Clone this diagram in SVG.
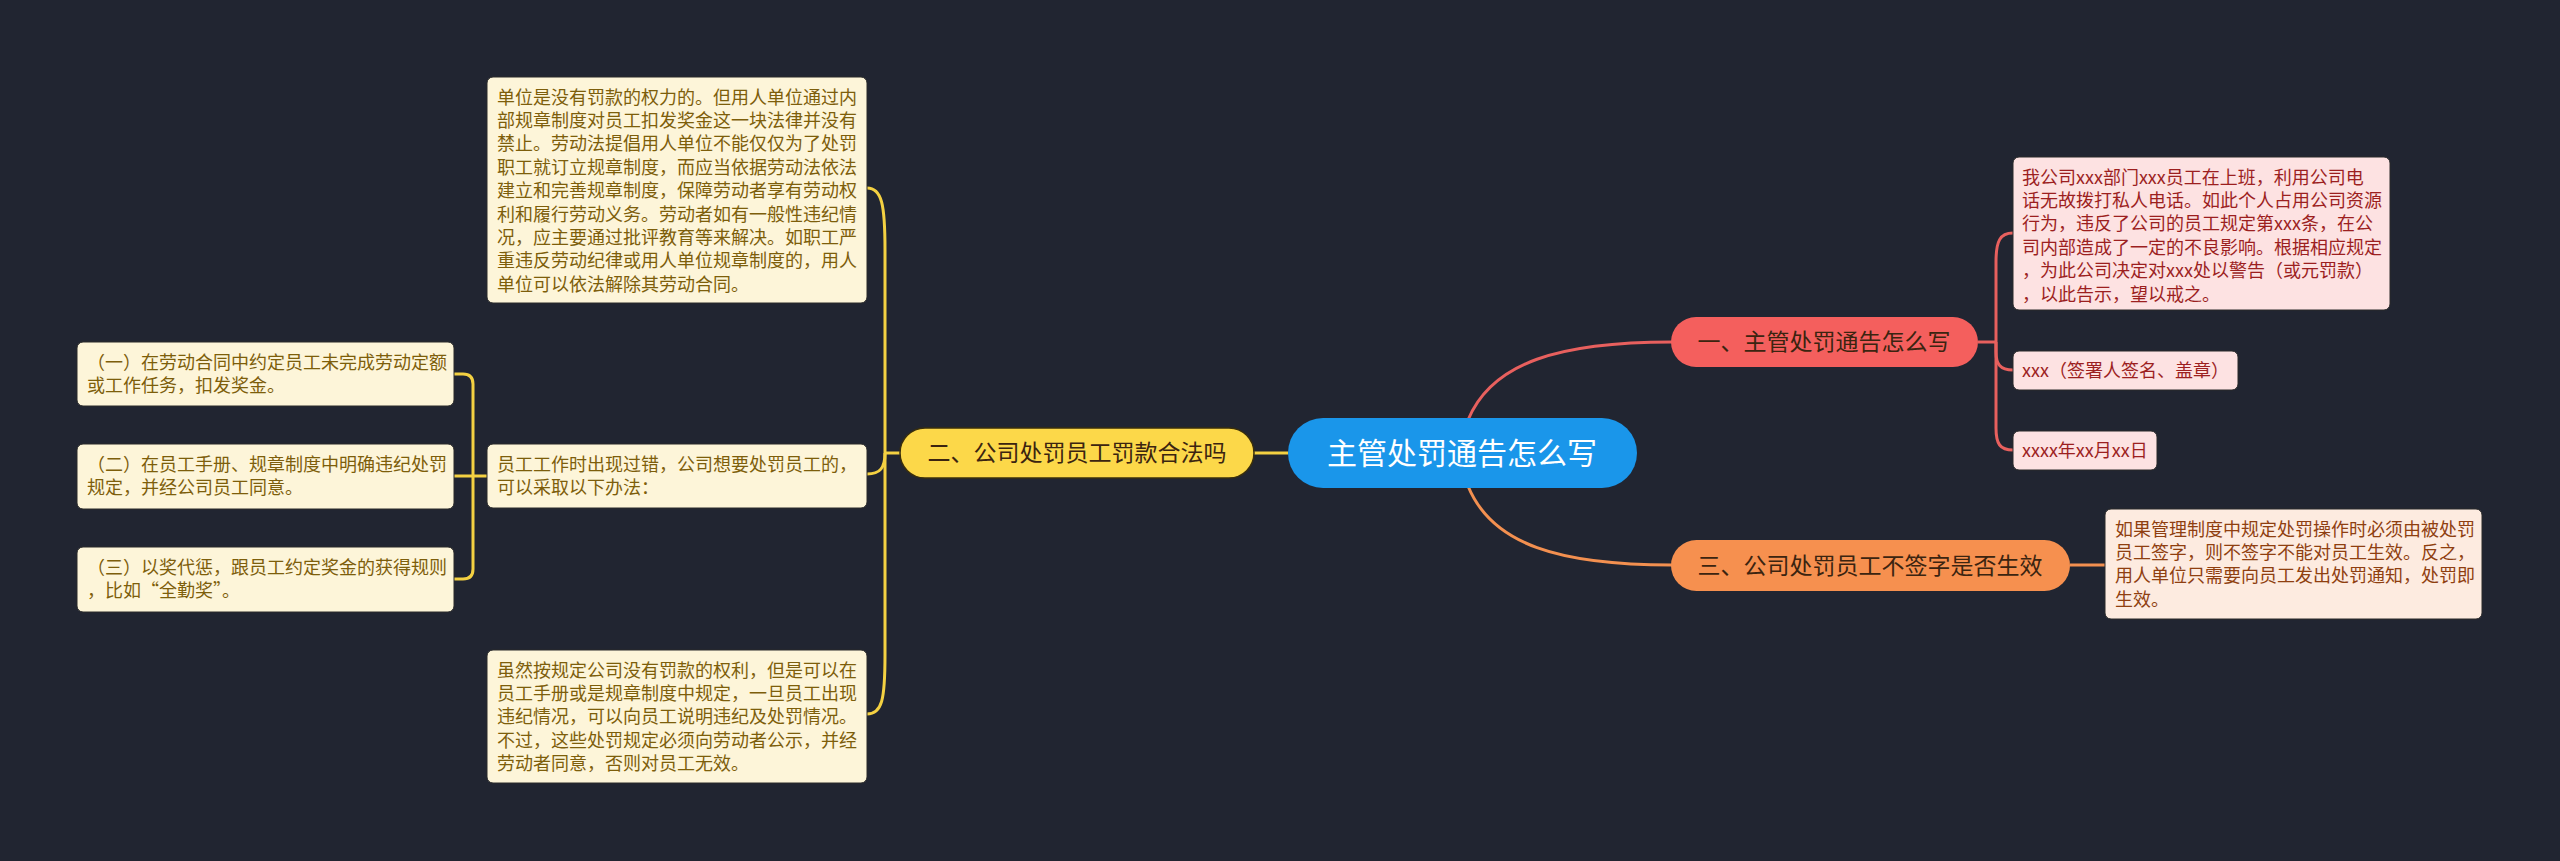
<svg xmlns="http://www.w3.org/2000/svg" width="2560" height="861" viewBox="0 0 2560 861">
<style>
text{font-family:"Noto Sans CJK SC","Noto Sans",sans-serif;}
.leafY{fill:#fdf5d9;stroke:#2a2a2a;stroke-width:1}
.leafR{fill:#fde2e2;stroke:#2a2a2a;stroke-width:1}
.leafO{fill:#fdebe0;stroke:#2a2a2a;stroke-width:1}
.tY{fill:#7d5e0b;font-size:18px}
.tR{fill:#9c1f1f;font-size:18px}
.tO{fill:#8f3f10;font-size:18px}
.cY{fill:none;stroke:#f4d142;stroke-width:3}
.cR{fill:none;stroke:#e8605e;stroke-width:3}
.cO{fill:none;stroke:#f39050;stroke-width:3}
.br{font-size:23px;fill:#3b2410;text-anchor:middle}
</style>
<rect width="2560" height="861" fill="#212531"/>
<g id="connectors">
<path class="cR" d="M1468 420 C1492 362 1560 342 1672 342"/>
<path class="cO" d="M1468 486 C1492 545 1560 565 1672 565"/>
<path class="cY" d="M1288 453 H1254"/>
<path class="cY" d="M900 453 H885"/>
<path class="cY" d="M885 453 V250 C885 205 882 188 867 188"/>
<path class="cY" d="M885 453 V655 C885 700 882 714 867 714"/>
<path class="cY" d="M885 453 C885 468 880 474 867 474"/>
<path class="cY" d="M488 476 H454"/>
<path class="cY" d="M454 374 H463 Q473 374 473 384 V569 Q473 579 463 579 H454"/>
<path class="cR" d="M1978 342 H1996"/>
<path class="cR" d="M1996 342 V262 C1996 241 2000 233 2013 233"/>
<path class="cR" d="M1996 342 V352 C1996 364 2000 370 2013 370"/>
<path class="cR" d="M1996 342 V428 C1996 444 2000 450 2013 450"/>
<path class="cO" d="M2070 565 H2105"/>
</g>
<g id="center">
<rect x="1288" y="418" width="349" height="70" rx="35" fill="#1a96ea"/>
<text x="1462" y="464" font-size="30" fill="#ffffff" text-anchor="middle">主管处罚通告怎么写</text>
</g>
<g id="branch1">
<rect x="1671" y="317" width="307" height="50" rx="25" fill="#f45f5d"/>
<text class="br" x="1824" y="350">一、主管处罚通告怎么写</text>
</g>
<g id="branch2">
<rect x="900" y="428" width="354" height="50" rx="25" fill="#fcd849" stroke="#3a2f0c" stroke-width="1.5"/>
<text class="br" x="1077" y="461" fill="#3a2e0a">二、公司处罚员工罚款合法吗</text>
</g>
<g id="branch3">
<rect x="1671" y="540" width="399" height="51" rx="25.5" fill="#f6904f"/>
<text class="br" x="1870" y="574">三、公司处罚员工不签字是否生效</text>
</g>
<g id="r1">
<rect class="leafR" x="2013" y="157" width="377" height="153" rx="6"/>
<text class="tR" x="2022">
<tspan x="2022" y="183.5">我公司xxx部门xxx员工在上班，利用公司电</tspan>
<tspan x="2022" y="206.9">话无故拨打私人电话。如此个人占用公司资源</tspan>
<tspan x="2022" y="230.3">行为，违反了公司的员工规定第xxx条，在公</tspan>
<tspan x="2022" y="253.7">司内部造成了一定的不良影响。根据相应规定</tspan>
<tspan x="2022" y="277.1">，为此公司决定对xxx处以警告（或元罚款）</tspan>
<tspan x="2022" y="300.5">，以此告示，望以戒之。</tspan>
</text>
</g>
<g id="r2">
<rect class="leafR" x="2013" y="351" width="225" height="39" rx="6"/>
<text class="tR" x="2022" y="377">xxx（签署人签名、盖章）</text>
</g>
<g id="r3">
<rect class="leafR" x="2013" y="431" width="144" height="39" rx="6"/>
<text class="tR" x="2022" y="457">xxxx年xx月xx日</text>
</g>
<g id="o1">
<rect class="leafO" x="2105" y="509" width="377" height="110" rx="6"/>
<text class="tO">
<tspan x="2115" y="535.5">如果管理制度中规定处罚操作时必须由被处罚</tspan>
<tspan x="2115" y="558.9">员工签字，则不签字不能对员工生效。反之，</tspan>
<tspan x="2115" y="582.3">用人单位只需要向员工发出处罚通知，处罚即</tspan>
<tspan x="2115" y="605.7">生效。</tspan>
</text>
</g>
<g id="yA">
<rect class="leafY" x="487" y="77" width="380" height="226" rx="6"/>
<text class="tY">
<tspan x="497" y="103.5">单位是没有罚款的权力的。但用人单位通过内</tspan>
<tspan x="497" y="126.9">部规章制度对员工扣发奖金这一块法律并没有</tspan>
<tspan x="497" y="150.3">禁止。劳动法提倡用人单位不能仅仅为了处罚</tspan>
<tspan x="497" y="173.7">职工就订立规章制度，而应当依据劳动法依法</tspan>
<tspan x="497" y="197.1">建立和完善规章制度，保障劳动者享有劳动权</tspan>
<tspan x="497" y="220.5">利和履行劳动义务。劳动者如有一般性违纪情</tspan>
<tspan x="497" y="243.9">况，应主要通过批评教育等来解决。如职工严</tspan>
<tspan x="497" y="267.3">重违反劳动纪律或用人单位规章制度的，用人</tspan>
<tspan x="497" y="290.7">单位可以依法解除其劳动合同。</tspan>
</text>
</g>
<g id="yB">
<rect class="leafY" x="487" y="444" width="380" height="64" rx="6"/>
<text class="tY">
<tspan x="497" y="470.5">员工工作时出现过错，公司想要处罚员工的，</tspan>
<tspan x="497" y="493.9">可以采取以下办法：</tspan>
</text>
</g>
<g id="yC">
<rect class="leafY" x="487" y="650" width="380" height="133" rx="6"/>
<text class="tY">
<tspan x="497" y="676.5">虽然按规定公司没有罚款的权利，但是可以在</tspan>
<tspan x="497" y="699.9">员工手册或是规章制度中规定，一旦员工出现</tspan>
<tspan x="497" y="723.3">违纪情况，可以向员工说明违纪及处罚情况。</tspan>
<tspan x="497" y="746.7">不过，这些处罚规定必须向劳动者公示，并经</tspan>
<tspan x="497" y="770.1">劳动者同意，否则对员工无效。</tspan>
</text>
</g>
<g id="s1">
<rect class="leafY" x="77" y="342" width="377" height="64" rx="6"/>
<text class="tY">
<tspan x="87" y="368.5">（一）在劳动合同中约定员工未完成劳动定额</tspan>
<tspan x="87" y="391.9">或工作任务，扣发奖金。</tspan>
</text>
</g>
<g id="s2">
<rect class="leafY" x="77" y="444" width="377" height="65" rx="6"/>
<text class="tY">
<tspan x="87" y="470.5">（二）在员工手册、规章制度中明确违纪处罚</tspan>
<tspan x="87" y="493.9">规定，并经公司员工同意。</tspan>
</text>
</g>
<g id="s3">
<rect class="leafY" x="77" y="547" width="377" height="65" rx="6"/>
<text class="tY">
<tspan x="87" y="573.5">（三）以奖代惩，跟员工约定奖金的获得规则</tspan>
<tspan x="87" y="596.9">，比如“全勤奖”。</tspan>
</text>
</g>
</svg>
